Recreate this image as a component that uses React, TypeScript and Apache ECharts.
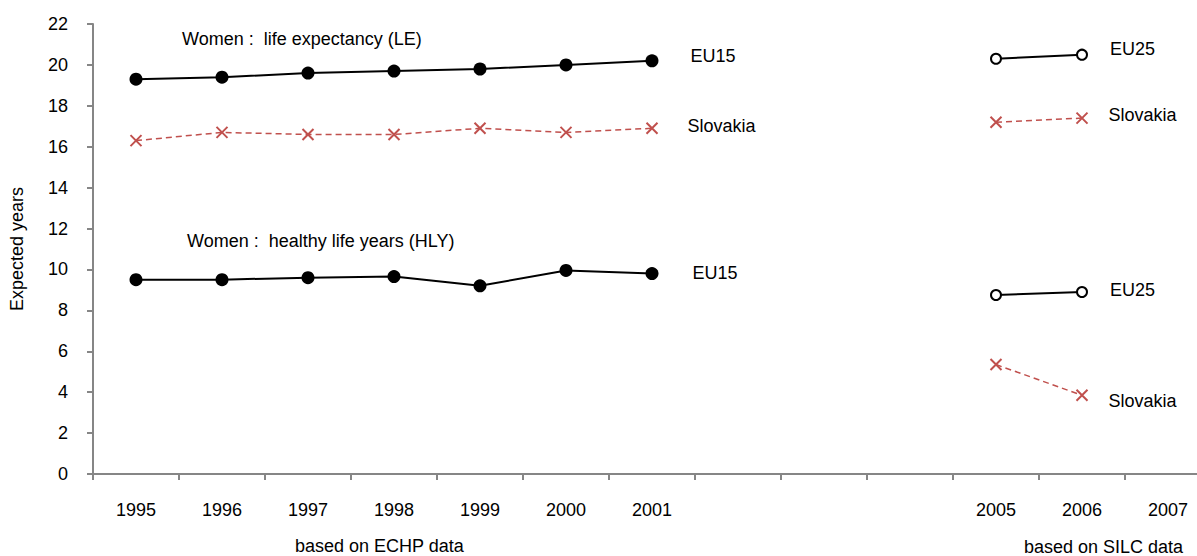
import React, { useEffect, useRef } from "react";
import * as echarts from "echarts";

const years = ["1995", "1996", "1997", "1998", "1999", "2000", "2001", "2002", "2003", "2004", "2005", "2006", "2007"];
const yearLabels = ["1995", "1996", "1997", "1998", "1999", "2000", "2001", "", "", "", "2005", "2006", "2007"];

const leEU15 = [19.3, 19.4, 19.6, 19.7, 19.8, 20.0, 20.2, null, null, null, null, null, null];
const leSlovakiaECHP = [16.3, 16.7, 16.6, 16.6, 16.9, 16.7, 16.9, null, null, null, null, null, null];
const leEU25 = [null, null, null, null, null, null, null, null, null, null, 20.3, 20.5, null];
const leSlovakiaSILC = [null, null, null, null, null, null, null, null, null, null, 17.2, 17.4, null];

const hlyEU15 = [9.5, 9.5, 9.6, 9.65, 9.2, 9.95, 9.8, null, null, null, null, null, null];
const hlyEU25 = [null, null, null, null, null, null, null, null, null, null, 8.75, 8.9, null];
const hlySlovakia = [null, null, null, null, null, null, null, null, null, null, 5.35, 3.85, null];

const yTicks = { min: 0, max: 22, interval: 2 };

const FONT = "'Liberation Sans', Arial, sans-serif";
const RED = "#c0504d";
const XPATH = "path://M0,0 L10,10 M10,0 L0,10";

function withEndLabel(values: (number | null)[], text: string, distance: number, dy: number) {
  let last = -1;
  values.forEach((v, i) => {
    if (v !== null) last = i;
  });
  return values.map((v, i) =>
    i === last
      ? {
          value: v,
          label: {
            show: true,
            formatter: text,
            position: "right",
            distance,
            offset: [0, dy],
            color: "#000",
            fontSize: 18,
            fontFamily: FONT,
          },
        }
      : v
  );
}

export default function App() {
  const ref = useRef<HTMLDivElement>(null);

  useEffect(() => {
    if (!ref.current) return;
    const chart = echarts.init(ref.current, null, { renderer: "svg" });

    const solidFilled = (name: string, data: any[]) => ({
      name,
      type: "line",
      data,
      connectNulls: false,
      symbol: "circle",
      symbolSize: 13,
      itemStyle: { color: "#000" },
      lineStyle: { color: "#000", width: 2 },
    });
    const solidHollow = (name: string, data: any[]) => ({
      name,
      type: "line",
      data,
      symbol: "emptyCircle",
      symbolSize: 10,
      itemStyle: { color: "#000", borderColor: "#000", borderWidth: 2 },
      lineStyle: { color: "#000", width: 2 },
    });
    const dashedRed = (name: string, data: any[]) => ({
      name,
      type: "line",
      data,
      symbol: XPATH,
      symbolSize: 11,
      itemStyle: { color: "rgba(0,0,0,0)", borderColor: RED, borderWidth: 2 },
      lineStyle: { color: RED, width: 1.5, type: [6, 4] },
    });

    chart.setOption({
      animation: false,
      backgroundColor: "#fff",
      grid: {
        left: 93,
        right: -14,
        top: 24,
        bottom: 82,
        containLabel: false,
        outerBoundsMode: "none",
      },
      xAxis: {
        type: "category",
        data: years,
        boundaryGap: true,
        axisLine: { lineStyle: { color: "#868686", width: 2 } },
        axisTick: { show: true, interval: 0, length: 6, lineStyle: { color: "#868686", width: 2 } },
        axisLabel: {
          interval: 0,
          margin: 27,
          color: "#000",
          fontSize: 18,
          fontFamily: FONT,
          formatter: (_v: string, i: number) => yearLabels[i],
        },
        splitLine: { show: false },
      },
      yAxis: {
        type: "value",
        min: yTicks.min,
        max: yTicks.max,
        interval: yTicks.interval,
        name: "Expected years",
        nameLocation: "middle",
        nameGap: 67,
        nameRotate: 90,
        nameTextStyle: { color: "#000", fontSize: 18, fontFamily: FONT },
        axisLine: { show: true, lineStyle: { color: "#868686", width: 2 } },
        axisTick: { show: true, length: 6, lineStyle: { color: "#868686", width: 2 } },
        axisLabel: { margin: 25, color: "#000", fontSize: 18, fontFamily: FONT },
        splitLine: { show: false },
      },
      series: [
        solidFilled("LE EU15", withEndLabel(leEU15, "EU15", 32, -5)),
        dashedRed("LE Slovakia ECHP", withEndLabel(leSlovakiaECHP, "Slovakia", 29, -2)),
        solidHollow("LE EU25", withEndLabel(leEU25, "EU25", 22, -6)),
        dashedRed("LE Slovakia SILC", withEndLabel(leSlovakiaSILC, "Slovakia", 20, -3)),
        solidFilled("HLY EU15", withEndLabel(hlyEU15, "EU15", 34, -1)),
        solidHollow("HLY EU25", withEndLabel(hlyEU25, "EU25", 22, -2)),
        dashedRed("HLY Slovakia", withEndLabel(hlySlovakia, "Slovakia", 20, 6)),
      ],
      graphic: [
        {
          type: "text",
          left: 182,
          top: 30,
          style: { text: "Women :  life expectancy (LE)", fill: "#000", fontSize: 18, fontFamily: FONT },
        },
        {
          type: "text",
          left: 187,
          top: 232,
          style: { text: "Women :  healthy life years (HLY)", fill: "#000", fontSize: 18, fontFamily: FONT },
        },
        {
          type: "text",
          left: 295,
          top: 537,
          style: { text: "based on ECHP data", fill: "#000", fontSize: 18, fontFamily: FONT },
        },
        {
          type: "text",
          left: 1024,
          top: 538,
          style: { text: "based on SILC data", fill: "#000", fontSize: 18, fontFamily: FONT },
        },
      ],
    });

    return () => chart.dispose();
  }, []);

  return <div ref={ref} style={{ width: 1197, height: 556, position: "absolute", left: 0, top: 0 }} />;
}
